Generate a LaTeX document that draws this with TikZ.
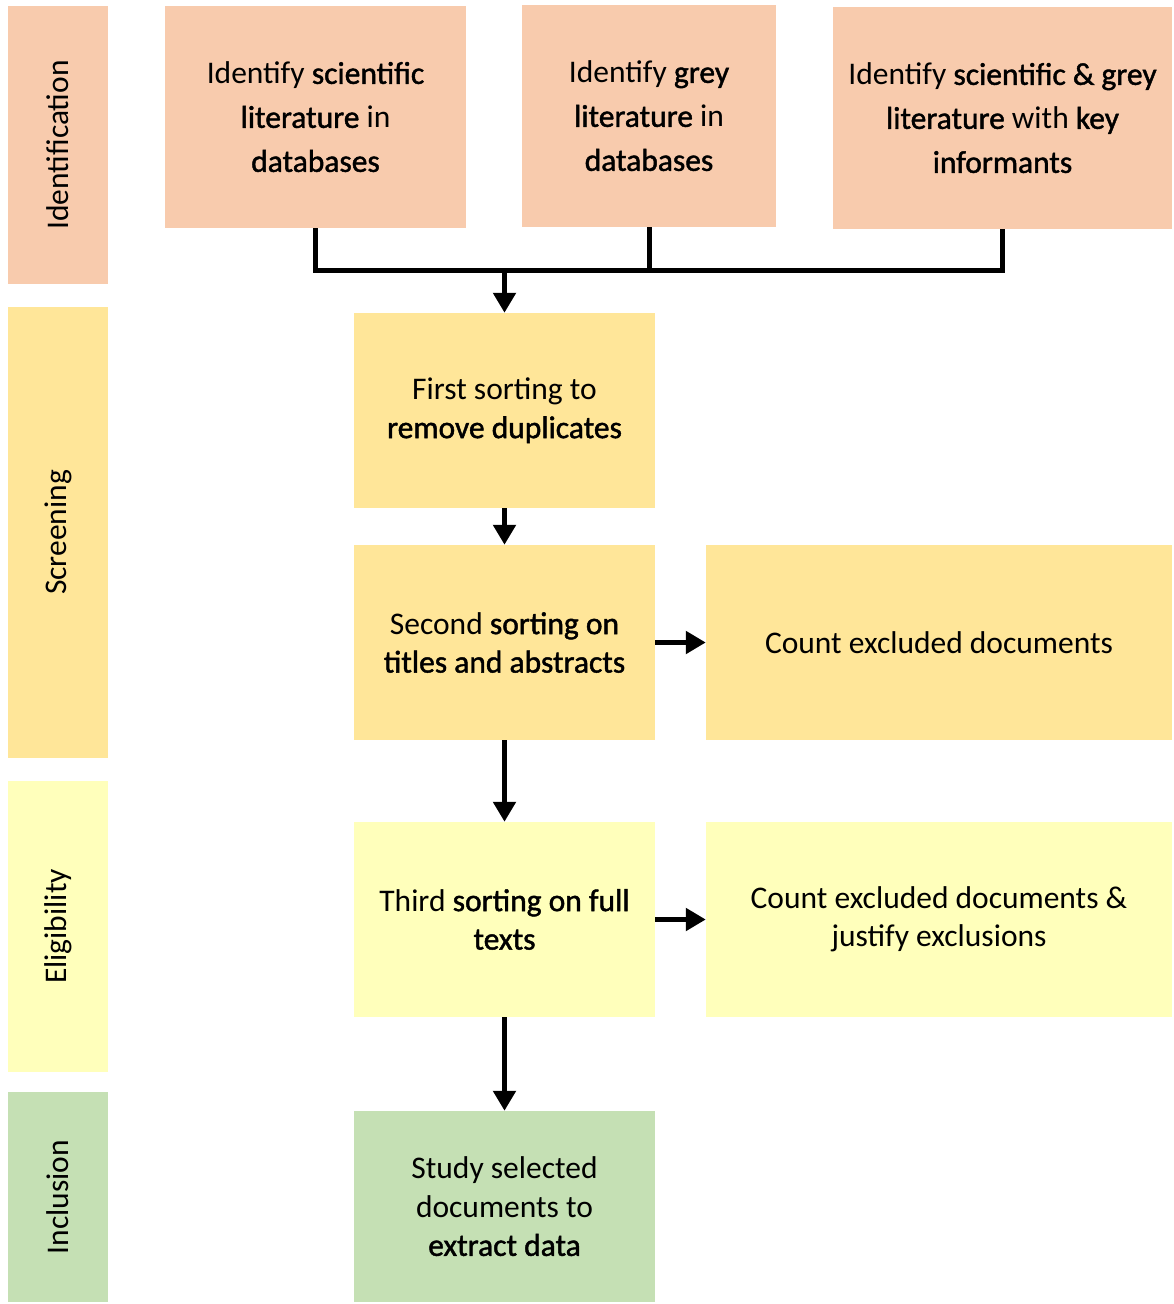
\documentclass[tikz,border=0pt]{standalone}
\usepackage{fontspec}
\setmainfont{Carlito}
\newfontfamily\keyfont[FakeBold=1.4]{Carlito}
\newcommand{\key}[1]{{\keyfont #1}}
\usetikzlibrary{arrows.meta}
\definecolor{idcol}{HTML}{F8CBAD}
\definecolor{scrcol}{HTML}{FFE699}
\definecolor{elicol}{HTML}{FFFFBB}
\definecolor{inccol}{HTML}{C5E0B4}
\tikzset{
	stage/.style={inner sep=0pt, align=center, font=\fontsize{31.5}{38.5}\selectfont},
	topstage/.style={stage, font=\fontsize{31.5}{44}\selectfont},
	band/.style={stage, rotate=90, minimum height=100pt},
	flow/.style={line width=5pt, draw=black},
}
\begin{document}
\begin{tikzpicture}[x=1pt, y=-1pt, >={Triangle[width=22pt,length=20pt]}]
\useasboundingbox (0,0) rectangle (1173,1304);

% phase bands
\foreach \l/\c/\t/\b in {Identification/idcol/6/284, Screening/scrcol/307/758, Eligibility/elicol/781/1072, Inclusion/inccol/1092/1302}
	\node [band, fill=\c, minimum width=\b-\t] (band-\l) at (58,{(\t+\b)/2}) {\l};

% identification
\node [topstage, fill=idcol, minimum width=301pt, minimum height=222pt] (id-sci) at (315.5,117)
	{Identify \key{scientific}\\ \key{literature} in\\ \key{databases}};
\node [topstage, fill=idcol, minimum width=254pt, minimum height=222pt] (id-grey) at (649,116)
	{Identify \key{grey}\\ \key{literature} in\\ \key{databases}};
\node [topstage, fill=idcol, minimum width=339pt, minimum height=222pt] (id-key) at (1002.5,118)
	{Identify \key{scientific \& grey}\\ \key{literature} with \key{key}\\ \key{informants}};

% screening, eligibility, inclusion
\node [stage, fill=scrcol, minimum width=301pt, minimum height=195pt] (first) at (504.5,410.5)
	{First sorting to\\ \key{remove duplicates}};
\node [stage, fill=scrcol, minimum width=301pt, minimum height=195pt] (second) at (504.5,642.5)
	{Second \key{sorting on}\\ \key{titles and abstracts}};
\node [stage, fill=scrcol, minimum width=466pt, minimum height=195pt] (count) at (939,642.5)
	{Count excluded documents};
\node [stage, fill=elicol, minimum width=301pt, minimum height=195pt] (third) at (504.5,919.5)
	{Third \key{sorting on full}\\ \key{texts}};
\node [stage, fill=elicol, minimum width=466pt, minimum height=195pt] (justify) at (939,919.5)
	{Count excluded documents \&\\ justify exclusions};
\node [stage, fill=inccol, minimum width=301pt, minimum height=191pt] (study) at (504.5,1206.5)
	{Study selected\\ documents to\\ \key{extract data}};

% connectors
\coordinate (merge) at (504.5,270);
\draw [flow] (id-sci.south) |- (merge) -| (id-key.south);
\draw [flow] (id-grey.south) -- (id-grey.south |- merge);
\draw [flow, ->] (merge) -- (first.north);
\draw [flow, ->] (first) -- (second);
\draw [flow, ->] (second) -- (third);
\draw [flow, ->] (third) -- (study);
\draw [flow, ->] (second) -- (count);
\draw [flow, ->] (third) -- (justify);

\end{tikzpicture}
\end{document}
